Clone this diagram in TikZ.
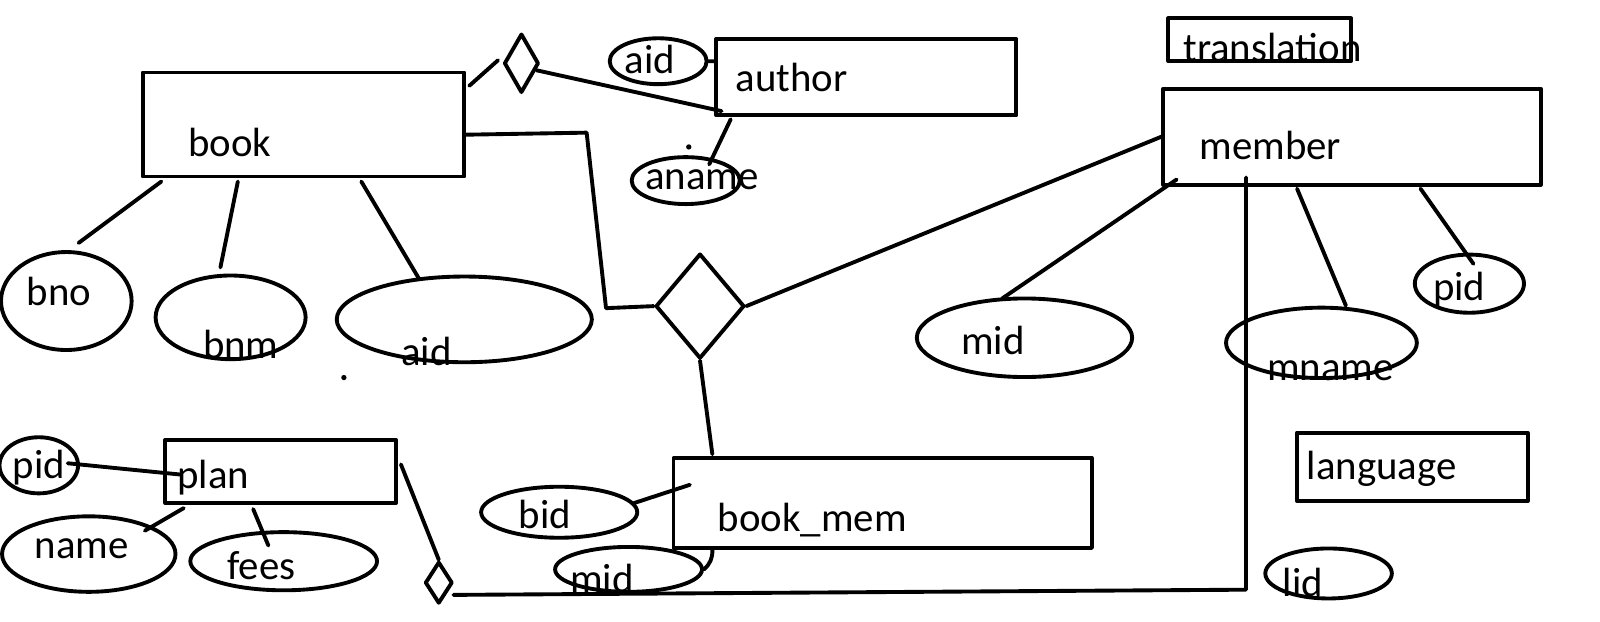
\documentclass[tikz,border=0pt]{standalone}
\usepackage{fontspec}
\setmainfont{Carlito}
\usetikzlibrary{shapes.geometric,calc}
\begin{document}
\begin{tikzpicture}[x=0.5pt, y=-0.5pt, line width=1.9pt, line join=round, line cap=round,
  font=\fontsize{20}{24}\selectfont,
  ent/.style 2 args={draw, rectangle, inner sep=0pt, minimum width=#1*0.5pt, minimum height=#2*0.5pt},
  att/.style 2 args={draw, ellipse, inner sep=0pt, minimum width=#1*0.5pt, minimum height=#2*0.5pt},
  rel/.style 2 args={draw, diamond, inner sep=0pt, minimum width=#1*0.5pt, minimum height=#2*0.5pt},
  txt/.style={inner sep=0pt}]
  \useasboundingbox (0,0) rectangle (1568,608.6);
  % entities
  \node[ent={315}{102}] (book) at (297.5,122) {};
  \node[txt] (booklbl) at (225,140) {book};
  \node[ent={294}{75}] (author) at (849,75.5) {};
  \node[txt] (authorlbl) at (776,76) {author};
  \node[ent={179}{42}] (translation) at (1234.5,39) {};
  \node[txt] (translationlbl) at (1247,47) {translation};
  \node[ent={370}{94}] (member) at (1325,134) {};
  \node[txt] (memberlbl) at (1245,143) {member};
  \node[ent={226}{67}] (language) at (1384,457.5) {};
  \node[txt] (languagelbl) at (1354,459) {language};
  \node[ent={226}{62}] (plan) at (275,462) {};
  \node[txt] (planlbl) at (209,468) {plan};
  \node[ent={410}{88}] (bookmem) at (865,493) {};
  \node[txt] (bookmemlbl) at (796,510) {book\_mem};
  % relationships
  \node[rel={34}{58}] (rel1) at (511,62) {};
  \node[rel={87}{103}] (relbig) at (686,300) {};
  \node[rel={27}{41}] (rel3) at (430,571) {};
  % attributes
  \node[att={95}{45}] (aid1) at (645,60) {};
  \node[txt] (aid1lbl) at (637,58) {aid};
  \node[att={106}{46}] (aname) at (672,177) {};
  \node[txt] (anamelbl) at (688,176) {aname};
  \node[att={128}{96}] (bno) at (65,295) {};
  \node[txt] (bnolbl) at (58,286) {bno};
  \node[att={147}{82}] (bnm) at (226,311) {};
  \node[txt] (bnmlbl) at (236,338) {bnm};
  \node[att={250}{84}] (aidb) at (455,313) {};
  \node[txt] (aidblbl) at (418,344) {aid};
  \node[att={211}{77}] (midm) at (1004,331) {};
  \node[txt] (midmlbl) at (973,334) {mid};
  \node[att={187}{69}] (mname) at (1295,336) {};
  \node[txt] (mnamelbl) at (1304,363) {mname};
  \node[att={107}{57}] (pidm) at (1440,278) {};
  \node[txt] (pidmlbl) at (1430,284) {pid};
  \node[att={124}{49}] (lid) at (1302,562) {};
  \node[txt] (lidlbl) at (1277,571) {lid};
  \node[att={77}{55}] (pidp) at (38,456) {};
  \node[txt] (pidplbl) at (38,458) {pid};
  \node[att={170}{74}] (name) at (87,543) {};
  \node[txt] (namelbl) at (80,538) {name};
  \node[att={183}{57}] (fees) at (278,550) {};
  \node[txt] (feeslbl) at (256,554) {fees};
  \node[att={153}{50}] (bid) at (548,502) {};
  \node[txt] (bidlbl) at (534,504) {bid};
  \node[att={144}{44}] (midb) at (616,558) {};
  \node[txt] (midblbl) at (590,567) {mid};
  % stray dots
  \fill (675,144) circle (1.3pt);
  \fill (337,370) circle (1.3pt);
  % connectors
  \draw ($(book.north east)+(3,15)$) -- ($(rel1.west)+(-4,-3)$);
  \draw (rel1.-25) -- ($(author.south west)+(7,-6)$);
  \draw (aid1.east) -- ($(author.north west)+(0,24)$);
  \draw ($(author.south west)+(16,2)$) -- ($(aname.north)+(23,9)$);
  \draw ($(book.south west)+(20,3)$) -- ($(bno.north)+(12,-7)$);
  \draw ($(book.south west)+(95,3)$) -- ($(bnm.north)+(-10,-6)$);
  \draw ($(book.south west)+(216,3)$) -- ($(aidb.north)+(-45,3)$);
  \draw ($(book.east)+(0,10)$) -- ++(118,-2) -- ++(19,172) -- (relbig.west);
  \draw (relbig.east) -- (member.west);
  \draw (relbig.south) -- ($(bookmem.north west)+(40,-2)$);
  \draw ($(member.south west)+(15,-7)$) -- ($(midm.north)+(-22,2)$);
  \draw ($(member.south west)+(133,2)$) -- ($(mname.north)+(24,0)$);
  \draw ($(member.south west)+(254,2)$) -- ($(pidm.north)+(4,11)$);
  \draw ($(member.south west)+(83,-9)$) -- ++(0,404) -- ($(rel3.east)+(-1,12)$);
  \draw ($(plan.north east)+(3,26)$) -- (rel3.north);
  \draw ($(pidp.east)+(-12,-2)$) -- ($(plan.west)+(16,3)$);
  \draw ($(plan.south west)+(20,3)$) -- ($(name.north)+(55,16)$);
  \draw ($(plan.south west)+(88,4)$) -- ($(fees.north)+(-15,15)$);
  \draw ($(bid.east)+(-5,-9)$) -- ($(bookmem.north west)+(18,28)$);
  \draw ($(bookmem.south west)+(40,0)$) to[bend left=25] (midb.east);
\end{tikzpicture}
\end{document}
